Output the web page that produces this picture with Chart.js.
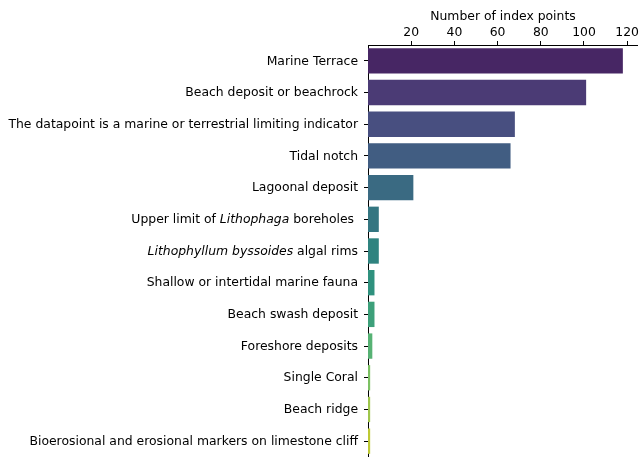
<!DOCTYPE html>
<html>
<head>
<meta charset="utf-8">
<script src="https://cdn.jsdelivr.net/npm/chart.js@4/dist/chart.umd.min.js"></script>
<style>
  body { margin: 0; background: #fff; }
  #wrap { width: 640px; height: 457px; }
</style>
</head>
<body>
<div id="wrap"><canvas id="grafica" width="640" height="457"></canvas></div>
<script>
const categories = [
  'Marine Terrace',
  'Beach deposit or beachrock',
  'The datapoint is a marine or terrestrial limiting indicator',
  'Tidal notch',
  'Lagoonal deposit',
  'Upper limit of Lithophaga boreholes ',
  'Lithophyllum byssoides algal rims',
  'Shallow or intertidal marine fauna',
  'Beach swash deposit',
  'Foreshore deposits',
  'Single Coral',
  'Beach ridge',
  'Bioerosional and erosional markers on limestone cliff'
];
const counts = [118, 101, 68, 66, 21, 5, 5, 3, 3, 2, 1, 1, 1];
const italicTerms = ['Lithophaga', 'Lithophyllum byssoides'];
const xTicks = [20, 40, 60, 80, 100, 120];

// viridis, sampled like seaborn, then desaturated 0.75
const viridis = ['#481c6e', '#46327e', '#3f4889', '#365c8d', '#2e6e8e', '#277f8e', '#21918c',
  '#1fa188', '#2cb17e', '#48c16e', '#75d054', '#a5db36', '#d2e21b'];

function desat(hex, p) {
  let r = parseInt(hex.slice(1, 3), 16) / 255, g = parseInt(hex.slice(3, 5), 16) / 255, b = parseInt(hex.slice(5, 7), 16) / 255;
  const mx = Math.max(r, g, b), mn = Math.min(r, g, b), l = (mx + mn) / 2;
  let h = 0, s = 0;
  if (mx !== mn) {
    const d = mx - mn;
    s = l > 0.5 ? d / (2 - mx - mn) : d / (mx + mn);
    if (mx === r) h = ((g - b) / d + (g < b ? 6 : 0)) / 6;
    else if (mx === g) h = ((b - r) / d + 2) / 6;
    else h = ((r - g) / d + 4) / 6;
  }
  s *= p;
  const q = l < 0.5 ? l * (1 + s) : l + s - l * s, pp = 2 * l - q;
  const f = t => {
    if (t < 0) t += 1; if (t > 1) t -= 1;
    if (t < 1 / 6) return pp + (q - pp) * 6 * t;
    if (t < 1 / 2) return q;
    if (t < 2 / 3) return pp + (q - pp) * (2 / 3 - t) * 6;
    return pp;
  };
  return 'rgb(' + [f(h + 1 / 3), f(h), f(h - 1 / 3)].map(v => Math.round(v * 255)).join(',') + ')';
}
const barColors = viridis.map(c => desat(c, 0.75));

const FONT = 'DejaVu Sans';
const FS = 12.4;

// y labels with italic parts
const mixedLabels = {
  id: 'mixedLabels',
  afterDraw(chart) {
    const ctx = chart.ctx, yScale = chart.scales.y;
    ctx.save();
    ctx.fillStyle = '#000';
    ctx.textBaseline = 'middle';
    ctx.textAlign = 'left';
    categories.forEach((lab, i) => {
      const y = yScale.getPixelForTick(i);
      let parts = [{ t: lab, it: false }];
      italicTerms.forEach(term => {
        parts = parts.flatMap(p => {
          if (p.it || p.t.indexOf(term) < 0) return [p];
          const k = p.t.indexOf(term);
          return [{ t: p.t.slice(0, k), it: false }, { t: term, it: true }, { t: p.t.slice(k + term.length), it: false }]
            .filter(q => q.t.length);
        });
      });
      const fonts = parts.map(p => (p.it ? 'italic ' : '') + FS + 'px "' + FONT + '"');
      let w = 0;
      parts.forEach((p, j) => { ctx.font = fonts[j]; w += ctx.measureText(p.t).width; });
      let x = yScale.right - 10 - w;
      parts.forEach((p, j) => { ctx.font = fonts[j]; ctx.fillText(p.t, x, y + 0.5); x += ctx.measureText(p.t).width; });
    });
    ctx.restore();
  }
};

const ctx = document.getElementById('grafica');
new Chart(ctx, {
  type: 'bar',
  data: {
    labels: categories,
    datasets: [{
      label: 'Number of index points',
      data: counts,
      backgroundColor: barColors,
      categoryPercentage: 1,
      barPercentage: 0.8,
      borderWidth: 0
    }]
  },
  options: {
    indexAxis: 'y',
    responsive: false,
    animation: false,
    layout: { padding: 0 },
    plugins: { legend: { display: false }, tooltip: { enabled: false } },
    scales: {
      x: {
        position: 'top',
        min: 0,
        max: 125,
        afterBuildTicks: s => { s.ticks = xTicks.map(v => ({ value: v })); },
        afterFit: s => { s.height = 45; },
        border: { display: true, color: '#000', width: 1 },
        grid: { drawOnChartArea: false, drawTicks: true, tickLength: 4, color: '#000' },
        ticks: { color: '#000', font: { family: FONT, size: FS }, padding: 1, maxRotation: 0 },
        title: { display: true, text: 'Number of index points', color: '#000',
          font: { family: FONT, size: FS }, padding: { top: 9, bottom: 0 } }
      },
      y: {
        afterFit: s => { s.width = 368; },
        border: { display: true, color: '#000', width: 1 },
        grid: { drawOnChartArea: false, drawTicks: true, tickLength: 4, color: '#000', offset: false },
        ticks: { display: false }
      }
    }
  },
  plugins: [mixedLabels]
});
</script>
</body>
</html>
